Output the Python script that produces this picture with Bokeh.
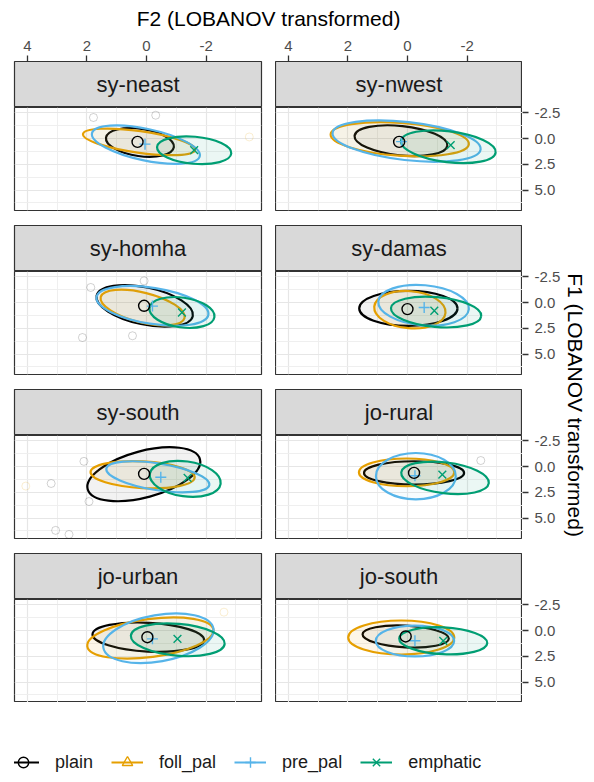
import numpy as np
from bokeh.plotting import figure
from bokeh.layouts import column, row
from bokeh.models import (Range1d, LinearAxis, FixedTicker, NumeralTickFormatter, Grid,
                          Legend, LegendItem)
from bokeh.core.properties import value
from bokeh.embed import file_html
from bokeh.resources import INLINE

FONT = "Liberation Sans"

# ---------------- data ----------------
regions = ["sy-neast", "sy-nwest", "sy-homha", "sy-damas",
           "sy-south", "jo-rural", "jo-urban", "jo-south"]
groups = ["plain", "foll_pal", "pre_pal", "emphatic"]
colors = ["#000000", "#E69F00", "#56B4E9", "#009E73"]
markers = ["circle", "triangle", "cross", "x"]

f2_ticks = [4, 2, 0, -2]
f2_minor = [3, 1, -1, -3]
f1_ticks = [-2.5, 0, 2.5, 5]
f1_minor = [-1.25, 1.25, 3.75, 6.25]
f2_limits = (4.43, -3.86)      # reversed F2 axis
f1_limits = (6.99, -3.01)      # reversed F1 axis

# ellipse centres / sizes / tilt, one value per region
ell_f2 = {
    "plain":    [0.22, 0.22, 0.06, -0.03, 0.09, -0.22, -0.06, 0.06],
    "foll_pal": [0.25, 0.26, 0.13, -0.08, 0.13, 0.03, -0.13, 0.21],
    "pre_pal":  [0.02, 0.03, -0.20, -0.54, -0.38, -0.28, -0.40, -0.25],
    "emphatic": [-1.60, -1.37, -1.19, -0.96, -1.30, -1.26, -1.05, -1.20],
}
ell_f1 = {
    "plain":    [0.38, 0.21, 0.33, 0.57, 0.75, 0.62, 0.65, 0.58],
    "foll_pal": [0.33, 0.07, 0.49, 0.70, 0.80, 0.57, 0.73, 0.68],
    "pre_pal":  [0.60, 0.25, 0.33, 0.27, 1.00, 0.94, 0.75, 1.02],
    "emphatic": [1.14, 0.80, 0.97, 0.93, 1.20, 1.10, 0.90, 1.00],
}
ell_w = {
    "plain":    [2.30, 3.13, 3.30, 3.30, 3.90, 3.36, 3.75, 2.90],
    "foll_pal": [3.80, 4.65, 2.90, 2.40, 3.50, 3.20, 4.27, 3.56],
    "pre_pal":  [3.70, 5.00, 3.80, 3.05, 3.50, 2.68, 3.75, 2.63],
    "emphatic": [2.50, 3.20, 2.20, 3.04, 2.40, 2.96, 3.16, 2.96],
}
ell_h = {
    "plain":    [2.66, 2.85, 3.60, 3.40, 4.50, 2.26, 2.80, 2.10],
    "foll_pal": [2.10, 3.20, 2.90, 3.60, 2.60, 2.70, 3.70, 3.30],
    "pre_pal":  [3.07, 3.70, 3.50, 3.90, 2.60, 4.50, 4.50, 3.00],
    "emphatic": [2.63, 3.00, 2.90, 2.90, 3.40, 3.00, 3.10, 2.60],
}
ell_angle = {
    "plain":    [-8, -6, -12, 0, 15, 0, -3, -3],
    "foll_pal": [-8, -4, -14, -5, -3, 0, 7.5, 0],
    "pre_pal":  [-12, -6.4, -9, -5, -9, 0, 10, 0],
    "emphatic": [-5, -7, -8, -5, -8, -7, -5, -3],
}
# group means (foll_pal means are hidden in the reference panels)
mean_f2 = {
    "plain":    [0.30, 0.28, 0.08, 0.00, 0.08, -0.22, -0.03, 0.06],
    "pre_pal":  [0.05, 0.20, -0.20, -0.56, -0.48, -0.25, -0.20, -0.25],
    "emphatic": [-1.60, -1.45, -1.19, -0.90, -1.38, -1.17, -1.04, -1.20],
}
mean_f1 = {
    "plain":    [0.33, 0.33, 0.32, 0.64, 0.72, 0.62, 0.65, 0.58],
    "pre_pal":  [0.55, 0.30, 0.35, 0.48, 1.04, 0.90, 0.81, 1.00],
    "emphatic": [1.13, 0.65, 0.97, 0.80, 1.10, 0.78, 0.81, 1.00],
}
# stray single tokens (region index, group, F2, F1)
stray_region = [0, 0, 0, 2, 2, 2, 2, 4, 4, 4, 4, 4, 4, 5, 6]
stray_group = ["plain", "plain", "foll_pal", "plain", "plain", "plain", "plain",
               "plain", "plain", "plain", "plain", "plain", "foll_pal", "plain", "foll_pal"]
stray_f2 = [1.78, -0.31, -3.45, 1.87, 2.15, 0.47, 0.08, 2.10, 3.20, 1.93, 3.05, 2.60, 4.05, -2.46, -2.60]
stray_f1 = [-2.04, -2.26, -0.15, -1.46, 3.40, 3.23, -2.10, -0.50, 1.65, 3.40, 6.20, 6.60, 1.90, -0.58, -1.78]

fill_alpha = {"plain": 0.05, "foll_pal": 0.09, "pre_pal": 0.04, "emphatic": 0.08}

# ---------------- layout constants ----------------
FRAME_W = 247
STRIP_H = 46
BODY_H = 103
GAP = 15
AXIS_TOP = 31
TITLE_H = 30
LEFT_PAD, MID_GAP, RIGHT_PAD = 14, 14, 40
RT_W = 28
TICK_COL = "#333333"
LABEL_COL = "#4D4D4D"


def style_axis(ax, standoff):
    ax.axis_line_color = None
    ax.major_tick_line_color = TICK_COL
    ax.major_tick_line_width = 1.3
    ax.major_tick_out = 6
    ax.major_tick_in = 0
    ax.minor_tick_line_color = None
    ax.major_label_text_font = FONT
    ax.major_label_text_font_size = "15px"
    ax.major_label_text_color = LABEL_COL
    ax.major_label_standoff = standoff


def make_strip(name, xr, right, first):
    bl, br = (0, 0) if right else (LEFT_PAD, MID_GAP)
    s = figure(width=bl + FRAME_W + br, height=STRIP_H + (AXIS_TOP if first else 0),
               x_range=xr, y_range=Range1d(0, 1), x_axis_type=None, y_axis_type=None,
               output_backend="svg", toolbar_location=None, min_border=0,
               min_border_left=bl, min_border_right=br,
               min_border_top=AXIS_TOP if first else 0,
               background_fill_color="#D9D9D9", border_fill_color="white",
               outline_line_color="#333333", outline_line_width=1.2)
    s.text(x=[(xr.start + xr.end) / 2], y=[0.5], text=[name], text_align="center",
           text_baseline="middle", text_font=value(FONT), text_font_size="22px",
           text_color="#1A1A1A")
    if first:
        ax = LinearAxis(ticker=FixedTicker(ticks=f2_ticks),
                        formatter=NumeralTickFormatter(format="0"))
        style_axis(ax, 5)
        s.add_layout(ax, "above")
    return s


def make_body(idx, xr, yr, right, last):
    bl, br = (0, 0) if right else (LEFT_PAD, MID_GAP)
    bb = 0 if last else GAP
    p = figure(width=bl + FRAME_W + br, height=BODY_H + bb,
               x_range=xr, y_range=yr, x_axis_type=None, y_axis_type=None,
               output_backend="svg", toolbar_location=None, min_border=0,
               min_border_left=bl, min_border_right=br, min_border_bottom=bb,
               background_fill_color="white", border_fill_color="white",
               outline_line_color="#333333", outline_line_width=1.2)
    p.add_layout(Grid(dimension=0, ticker=FixedTicker(ticks=f2_ticks, minor_ticks=f2_minor),
                      grid_line_color="#E6E6E6", grid_line_width=1.2,
                      minor_grid_line_color="#EDEDED", minor_grid_line_width=0.9))
    p.add_layout(Grid(dimension=1, ticker=FixedTicker(ticks=f1_ticks, minor_ticks=f1_minor),
                      grid_line_color="#E6E6E6", grid_line_width=1.2,
                      minor_grid_line_color="#EDEDED", minor_grid_line_width=0.9))
    for r, g, a, b in zip(stray_region, stray_group, stray_f2, stray_f1):
        if r == idx:
            col = colors[groups.index(g)]
            p.scatter(x=[a], y=[b], marker="circle", size=8, fill_color=None,
                      line_color=col, line_alpha=0.18, line_width=1)
    for g, col in zip(groups, colors):
        p.ellipse(x=[ell_f2[g][idx]], y=[ell_f1[g][idx]], width=[ell_w[g][idx]],
                  height=[ell_h[g][idx]], angle=[ell_angle[g][idx]], angle_units="deg",
                  fill_color=col, fill_alpha=fill_alpha[g], line_color=col, line_width=2.2)
    for g in ["emphatic", "pre_pal", "plain"]:
        k = groups.index(g)
        p.scatter(x=[mean_f2[g][idx]], y=[mean_f1[g][idx]], marker=markers[k], size=11,
                  fill_color=None, line_color=colors[k], line_width=1.4)
    return p


def make_axis_fig(yr, first, last):
    top = (AXIS_TOP if first else 0) + STRIP_H
    bot = 0 if last else GAP
    a = figure(width=RIGHT_PAD, height=top + BODY_H + bot, x_range=Range1d(0, 1),
               y_range=yr, x_axis_type=None, y_axis_type=None, output_backend="svg",
               toolbar_location=None, min_border=0, min_border_top=top,
               min_border_bottom=bot, min_border_left=0, min_border_right=RIGHT_PAD - 1,
               outline_line_color=None, background_fill_color="white",
               border_fill_color="white")
    ay = LinearAxis(ticker=FixedTicker(ticks=f1_ticks),
                    formatter=NumeralTickFormatter(format="0.0"))
    style_axis(ay, 6)
    a.add_layout(ay, "right")
    return a


rows = []
n_rows = len(regions) // 2
for r in range(n_rows):
    cols = []
    yr_right = None
    for c in range(2):
        idx = 2 * r + c
        xr = Range1d(*f2_limits)
        yr = Range1d(*f1_limits)
        s = make_strip(regions[idx], xr, c == 1, r == 0)
        b = make_body(idx, xr, yr, c == 1, r == n_rows - 1)
        cols.append(column(s, b))
        if c == 1:
            yr_right = yr
    cols.append(make_axis_fig(yr_right, r == 0, r == n_rows - 1))
    rows.append(row(*cols))
panels = column(*rows)

panels_w = LEFT_PAD + FRAME_W + MID_GAP + FRAME_W + RIGHT_PAD
panels_h = AXIS_TOP + n_rows * (STRIP_H + BODY_H) + (n_rows - 1) * GAP

# top title (frame spans both panel columns)
tfig = figure(width=panels_w, height=TITLE_H, x_range=Range1d(0, 1), y_range=Range1d(0, 1),
              x_axis_type=None, y_axis_type=None, output_backend="svg", toolbar_location=None,
              min_border=0, min_border_left=LEFT_PAD, min_border_right=RIGHT_PAD,
              outline_line_color=None, background_fill_color="white")
tfig.text(x=[0.5], y=[0.4], text=["F2 (LOBANOV transformed)"], text_align="center",
          text_baseline="middle", text_font=value(FONT), text_font_size="21px",
          text_color="#000000")

# right title (frame spans the panel bodies)
rfig = figure(width=RT_W, height=panels_h, x_range=Range1d(0, 1), y_range=Range1d(0, 1),
              x_axis_type=None, y_axis_type=None, output_backend="svg", toolbar_location=None,
              min_border=0, min_border_top=AXIS_TOP + STRIP_H,
              outline_line_color=None, background_fill_color="white")
rfig.text(x=[0.47], y=[0.5], text=["F1 (LOBANOV transformed)"], angle=[-np.pi / 2],
          text_align="center", text_baseline="middle", text_font=value(FONT),
          text_font_size="21px", text_color="#000000")

# legend
lfig = figure(width=panels_w + RT_W, height=76, x_range=Range1d(0, 1), y_range=Range1d(0, 1),
              x_axis_type=None, y_axis_type=None, output_backend="svg", toolbar_location=None,
              min_border=0, outline_line_color=None, background_fill_color="white")
items = []
for g, col, m in zip(groups, colors, markers):
    lr = lfig.line(x=np.array([np.nan]), y=np.array([np.nan]), line_color=col, line_width=2.2)
    sr = lfig.scatter(x=np.array([np.nan]), y=np.array([np.nan]), marker=m, size=11,
                      fill_color=None, line_color=col, line_width=1.4)
    items.append(LegendItem(label=g, renderers=[lr, sr]))
leg = Legend(items=items, orientation="horizontal", location=(-7, 3),
             glyph_width=32, glyph_height=26, label_standoff=16, spacing=18,
             padding=0, margin=0, border_line_color=None, background_fill_alpha=0,
             label_text_font=FONT, label_text_font_size="18px", label_text_color="#1A1A1A")
lfig.add_layout(leg)

layout = column(tfig, row(panels, rfig), lfig)

open("out.html", "w").write(file_html(layout, INLINE))
